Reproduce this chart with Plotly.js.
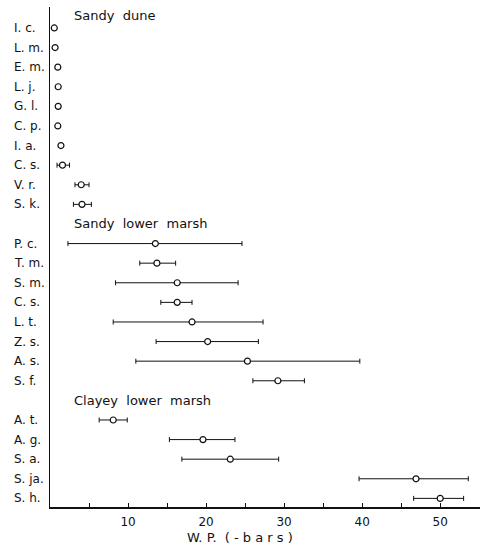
<!DOCTYPE html>
<html>
<head>
<meta charset="utf-8">
<script src="https://cdn.plot.ly/plotly-3.0.1.min.js"></script>
<style>html,body{margin:0;padding:0;background:#fff;}#chart{width:481px;height:549px;}</style>
</head>
<body>
<div id="chart"></div>
<script>
// ---- data (W.P., -bars) ----
const groupTitles = ["Sandy  dune", "Sandy  lower  marsh", "Clayey  lower  marsh"];

const duneLabels = ["I. c.", "L. m.", "E. m.", "L. j.", "G. l.", "C. p.", "I. a.", "C. s.", "V. r.", "S. k."];
const duneMean   = [0.55, 0.65, 1.0, 1.05, 1.05, 1.0, 1.4, 1.6, 4.0, 4.1];
const duneLow    = [null, null, null, null, null, null, null, 0.9, 3.2, 3.0];
const duneHigh   = [null, null, null, null, null, null, null, 2.5, 5.0, 5.3];

const sandyLabels = ["P. c.", "T. m.", "S. m.", "C. s.", "L. t.", "Z. s.", "A. s.", "S. f."];
const sandyMean   = [13.5, 13.7, 16.3, 16.3, 18.2, 20.2, 25.3, 29.2];
const sandyLow    = [2.3, 11.5, 8.4, 14.2, 8.1, 13.6, 11.0, 26.0];
const sandyHigh   = [24.6, 16.1, 24.1, 18.2, 27.3, 26.7, 39.7, 32.6];

const clayLabels = ["A. t.", "A. g.", "S. a.", "S. ja.", "S. h."];
const clayMean   = [8.1, 19.6, 23.1, 46.9, 50.0];
const clayLow    = [6.3, 15.3, 16.9, 39.6, 46.6];
const clayHigh   = [9.9, 23.7, 29.3, 53.6, 53.0];

const xTicks = [10, 20, 30, 40, 50];

// ---- build ----
const groups = [
  {labels: duneLabels, mean: duneMean, low: duneLow, high: duneHigh},
  {labels: sandyLabels, mean: sandyMean, low: sandyLow, high: sandyHigh},
  {labels: clayLabels, mean: clayMean, low: clayLow, high: clayHigh}
];

const FONT = "DejaVu Sans, Liberation Sans, sans-serif";
const traces = [];
const annotations = [];
let row = 0;
const titleRows = [];
const markerStyle = {symbol: "circle", size: 6, color: "#fff", line: {width: 1.2, color: "#111"}};
groups.forEach((g, gi) => {
  if (gi > 0) { titleRows.push(row); row += 1; } else { titleRows.push(-0.66); }
  const ys = g.labels.map((_, i) => row + i);
  const withErr = g.mean.map((_, i) => i).filter(i => g.low[i] != null);
  const noErr = g.mean.map((_, i) => i).filter(i => g.low[i] == null);
  if (withErr.length) {
    traces.push({
      type: "scatter", mode: "markers",
      x: withErr.map(i => g.mean[i]), y: withErr.map(i => ys[i]),
      marker: markerStyle,
      error_x: {
        type: "data", symmetric: false,
        array: withErr.map(i => g.high[i] - g.mean[i]),
        arrayminus: withErr.map(i => g.mean[i] - g.low[i]),
        color: "#111", thickness: 1, width: 2.5
      },
      showlegend: false
    });
  }
  if (noErr.length) {
    traces.push({
      type: "scatter", mode: "markers",
      x: noErr.map(i => g.mean[i]), y: noErr.map(i => ys[i]),
      marker: markerStyle, showlegend: false
    });
  }
  g.labels.forEach((lab, i) => {
    annotations.push({
      text: lab, xref: "paper", yref: "y", x: -0.088, y: ys[i],
      xanchor: "left", yanchor: "middle", showarrow: false,
      font: {family: FONT, size: 12, color: "#111"}
    });
  });
  row += g.labels.length;
});

groupTitles.forEach((t, i) => {
  annotations.push({
    text: t, xref: "paper", yref: "y", x: 0.052, y: titleRows[i],
    xanchor: "left", yanchor: "middle", showarrow: false,
    font: {family: FONT, size: 13, color: "#111"}
  });
});

annotations.push({
  text: "W. P.  ( - b a r s )", xref: "paper", yref: "paper",
  x: 0.442, y: -0.06, xanchor: "center", yanchor: "middle", showarrow: false,
  font: {family: FONT, size: 13, color: "#111"}
});

const layout = {
  width: 481, height: 549,
  margin: {l: 50, r: 1, t: 7, b: 42},
  paper_bgcolor: "#fff", plot_bgcolor: "#fff",
  font: {family: FONT, size: 12, color: "#111"},
  xaxis: {
    range: [0, 55.1], showgrid: false, zeroline: false,
    showline: true, linecolor: "#111", linewidth: 1.5,
    ticks: "inside", ticklen: 4, tickwidth: 1, tickcolor: "#111",
    tickvals: xTicks, ticktext: xTicks.map(String),
    ticklabelstandoff: 3,
    tickfont: {family: FONT, size: 12, color: "#111"},
    minor: {dtick: 5, tick0: 0, ticks: "inside", ticklen: 4, tickcolor: "#111", showgrid: false}
  },
  yaxis: {
    range: [24.44, -1.07], showgrid: false, zeroline: false,
    showline: true, linecolor: "#111", linewidth: 1.5,
    showticklabels: false, ticks: ""
  },
  annotations: annotations
};

Plotly.newPlot("chart", traces, layout, {displayModeBar: false, staticPlot: true});
</script>
</body>
</html>
